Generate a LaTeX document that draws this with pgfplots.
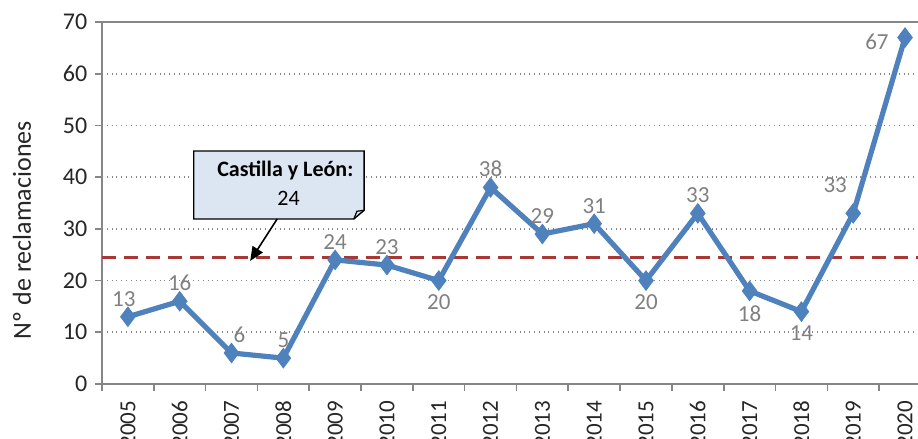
\documentclass[border=0pt]{standalone}
\usepackage{pgfplots}
\pgfplotsset{compat=1.18}
\usepackage{fontspec}
\setmainfont{Carlito}
\usetikzlibrary{arrows.meta}
\definecolor{lineblue}{RGB}{79,129,189}
\definecolor{avgred}{RGB}{168,56,54}
\definecolor{axgray}{RGB}{134,134,134}
\definecolor{lblgray}{RGB}{128,128,128}
\definecolor{boxfill}{RGB}{220,230,242}
\begin{document}
\fontsize{11}{13}\selectfont
\begin{tikzpicture}
\begin{axis}[
  scale only axis,
  width=408pt, height=181pt,
  xmin=-0.5, xmax=15.25,
  ymin=0, ymax=70,
  axis x line*=bottom, axis y line*=left,
  axis line style={axgray, line width=1pt, -},
  ytick={0,10,...,70},
  xtick={0,...,15},
  xticklabels={2005,2006,2007,2008,2009,2010,2011,2012,2013,2014,2015,2016,2017,2018,2019,2020},
  x tick label style={rotate=90, anchor=east, font=\fontsize{11.5}{14}\selectfont, text=black!85, xshift=-1pt},
  y tick label style={font=\fontsize{12}{14}\selectfont, text=black!85},
  major x tick style={draw=none},
  minor xtick={-0.5,0.5,...,14.5},
  minor tick length=3.5pt,
  major tick length=3.5pt,
  tick align=outside,
  tick style={axgray, line width=0.8pt},
  ymajorgrids,
  grid style={axgray, dotted, line width=0.8pt},
  ylabel={Nº de reclamaciones},
  every axis y label/.style={at={(axis description cs:0,0.425)}, xshift=-40pt, rotate=90, anchor=center, font=\fontsize{13}{15}\selectfont, text=black!85},
  clip=false,
  /pgf/number format/assume math mode=true,
  every node near coord/.append style={font=\fontsize{11.5}{13}\selectfont, text=lblgray, inner sep=2pt},
]
\draw[axgray, line width=1pt] (rel axis cs:0,1) -- (rel axis cs:1,1);
\addplot[avgred, line width=1.6pt, dash pattern=on 7pt off 4pt] coordinates {(-0.5,24.4) (15.25,24.4)};
\addplot[lineblue, line width=2.6pt, mark=diamond*, mark size=4.8pt,
  mark options={solid, fill=lineblue, draw=lineblue, line width=0.5pt}
] coordinates {(0,13) (1,16) (2,6) (3,5) (4,24) (5,23) (6,20) (7,38) (8,29) (9,31) (10,20) (11,33) (12,18) (13,14) (14,33) (15,67)};
% data labels
\addplot[draw=none, mark=none, nodes near coords, every node near coord/.append style={anchor=south, yshift=3pt}]
  coordinates {(1,16) (3,5) (4,24) (5,23) (7,38) (8,29) (9,31) (11,33)};
\addplot[draw=none, mark=none, nodes near coords, every node near coord/.append style={anchor=south, yshift=3pt, xshift=-2pt}]
  coordinates {(0,13)};
\addplot[draw=none, mark=none, nodes near coords, every node near coord/.append style={anchor=south, yshift=3pt, xshift=4pt}]
  coordinates {(2,6)};
\addplot[draw=none, mark=none, nodes near coords, every node near coord/.append style={anchor=north, yshift=-5pt}]
  coordinates {(6,20) (10,20) (12,18) (13,14)};
\addplot[draw=none, mark=none, nodes near coords, every node near coord/.append style={anchor=south east, xshift=-1pt, yshift=8pt}]
  coordinates {(14,33)};
\addplot[draw=none, mark=none, nodes near coords, every node near coord/.append style={anchor=east, xshift=-6pt, yshift=-2pt}]
  coordinates {(15,67)};
\draw[black, line width=0.7pt, fill=boxfill]
  (axis cs:1.27,45.06) -- (axis cs:4.56,45.06) -- (axis cs:4.56,33.6) -- (axis cs:4.36,31.9) -- (axis cs:1.27,31.9) -- cycle;
\draw[black, line width=0.6pt] (axis cs:4.56,33.6) -- (axis cs:4.42,33.4) -- (axis cs:4.36,31.9);
\node[anchor=east, font=\fontsize{11}{13}\selectfont\bfseries] at (axis cs:4.5,41.2) {Castilla y León:};
\node[font=\fontsize{11}{13}\selectfont] at (axis cs:3.1,35.9) {24};
\draw[black, line width=0.8pt, -{Triangle[length=7pt,width=6pt]}] (axis cs:2.88,31.9) -- (axis cs:2.36,23.8);
\end{axis}
\pgfresetboundingbox
\path[use as bounding box] (-51pt,-27.5pt) rectangle (408pt,192pt);
\end{tikzpicture}
\end{document}
